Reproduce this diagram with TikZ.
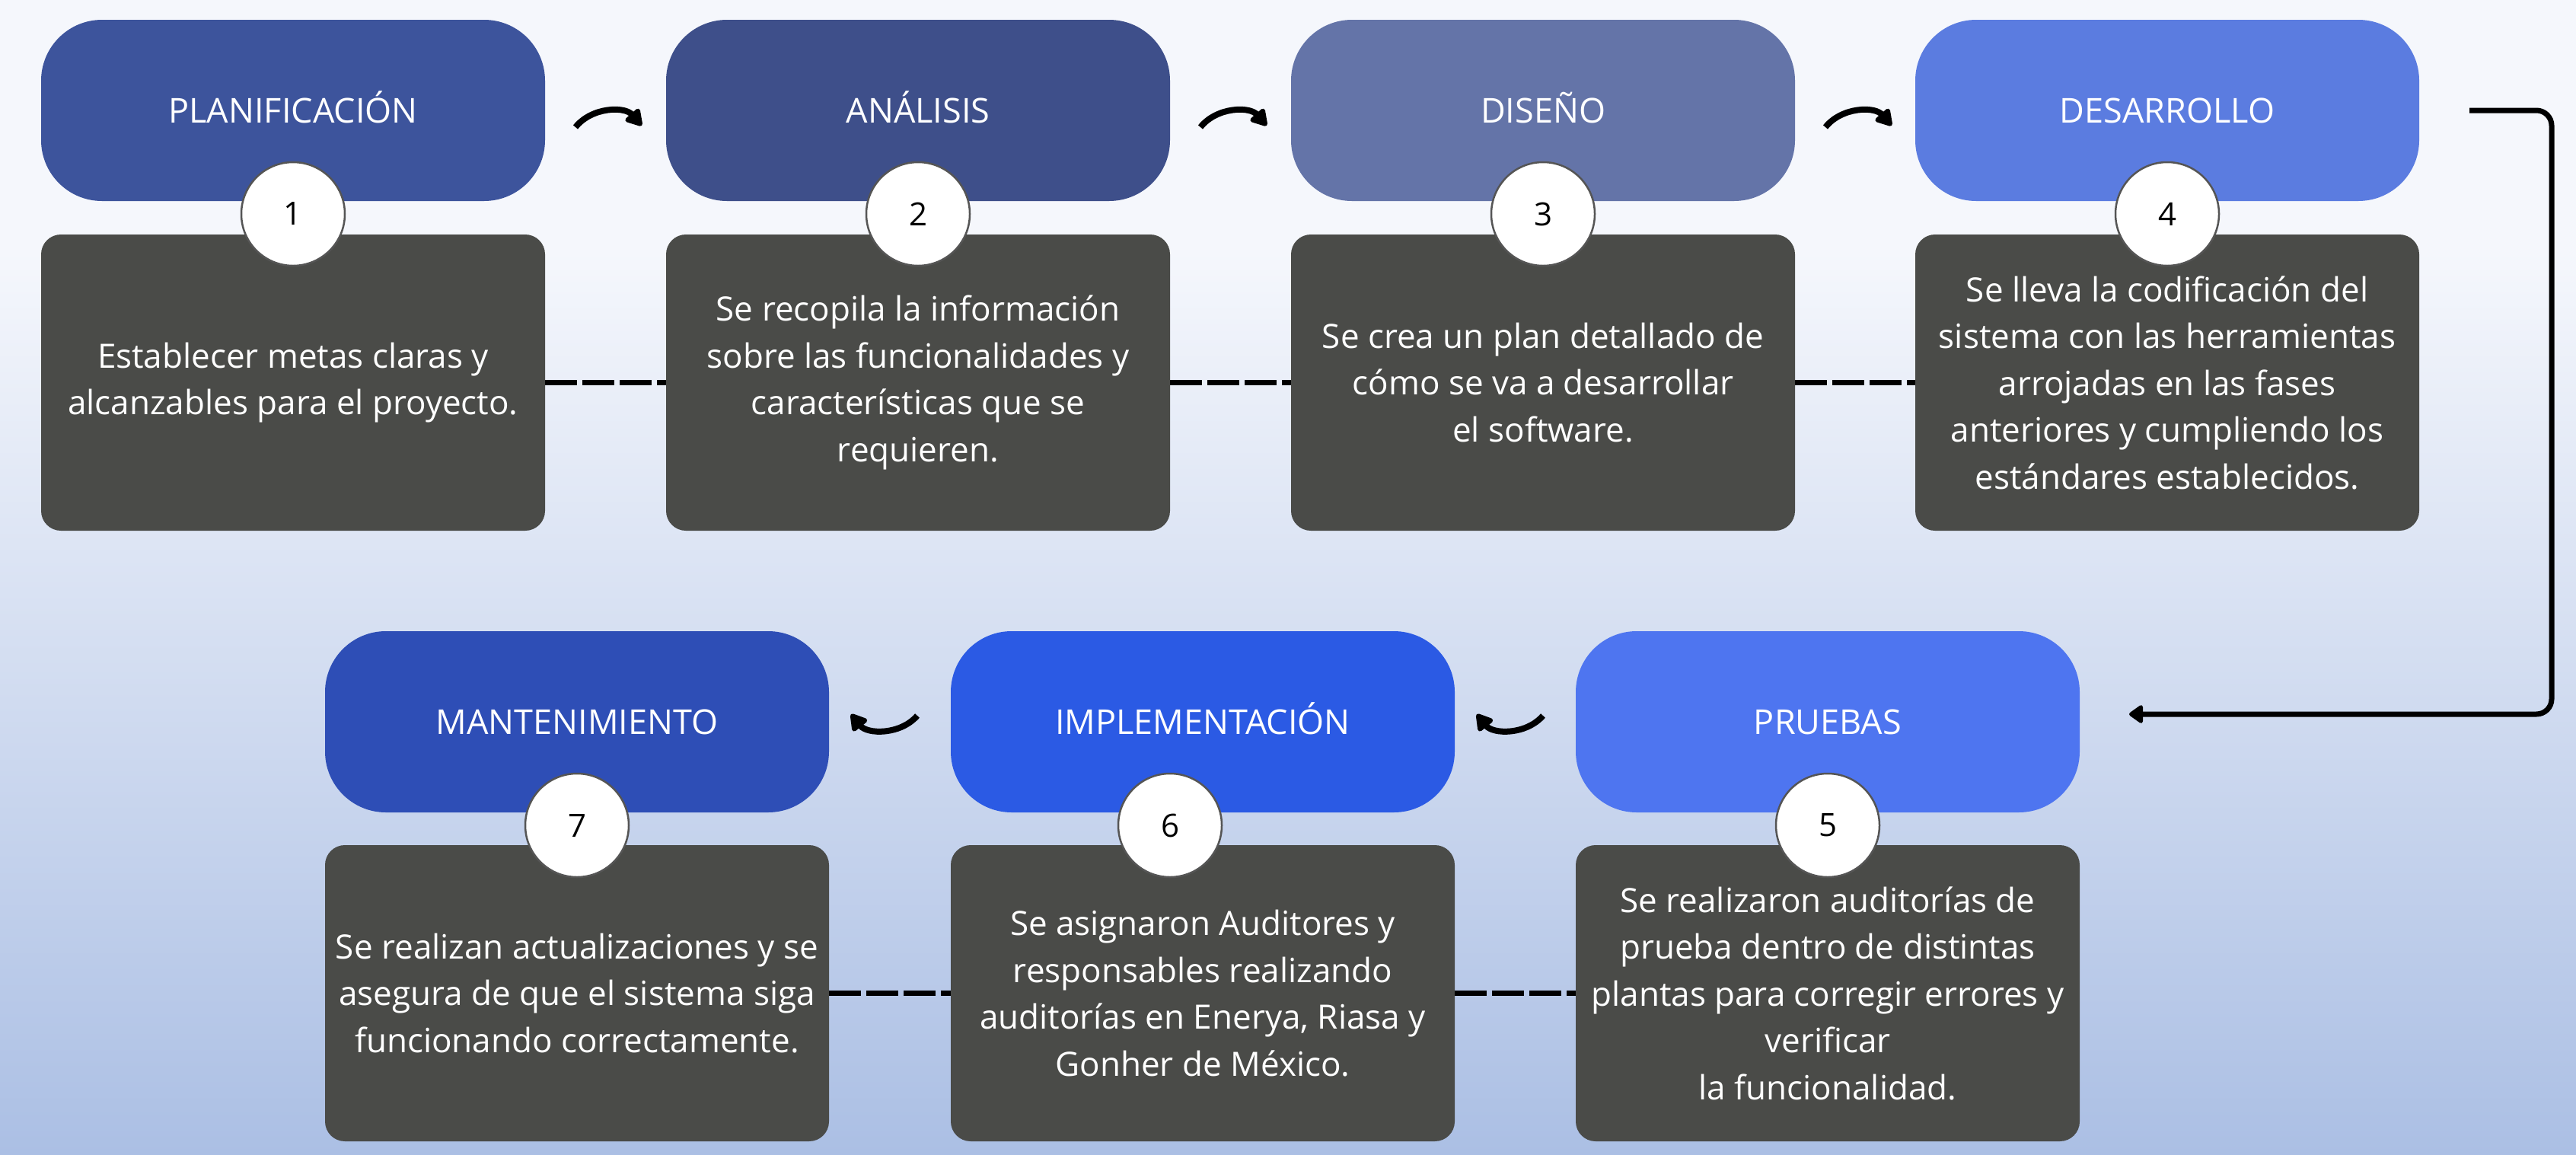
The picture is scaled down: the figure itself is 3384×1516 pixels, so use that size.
\documentclass[tikz,border=0pt]{standalone}
\usepackage{fontspec}
\setmainfont{Open Sans}
\usetikzlibrary{arrows.meta}
\definecolor{bgtop}{HTML}{F5F7FC}
\definecolor{bgbot}{HTML}{ABBFE4}
\definecolor{cA}{HTML}{3D549C}
\definecolor{cB}{HTML}{3E4F8A}
\definecolor{cC}{HTML}{6474A8}
\definecolor{cD}{HTML}{5B7CE0}
\definecolor{cE}{HTML}{4E75F0}
\definecolor{cF}{HTML}{2B5AE4}
\definecolor{cG}{HTML}{2E4EB6}
\definecolor{darkbox}{HTML}{4A4B48}
\definecolor{ringcol}{HTML}{555555}
\tikzset{
  pill/.style={rectangle, rounded corners=80pt, minimum width=662pt, minimum height=238pt,
    inner sep=0pt, text=white, text height=32pt, text depth=0pt,
    font=\fontsize{45}{54}\selectfont},
  descbox/.style={rectangle, rounded corners=26pt, fill=darkbox, minimum width=662pt,
    minimum height=389pt, inner sep=0pt, text=white, align=center,
    font=\fontsize{44}{61.5}\selectfont},
  numcircle/.style={circle, fill=white, draw=ringcol, line width=2.5pt, minimum size=136pt,
    inner sep=0pt, text=black, font=\fontsize{42}{50}\selectfont},
  dashlink/.style={line width=7pt, dash pattern=on 42pt off 7pt},
  curvearrow/.style={line width=8pt, -{Triangle[length=24pt,width=27pt,round]}},
  bigarrow/.style={line width=7pt, rounded corners=20pt, -{Triangle[length=20pt,width=27pt,round]}}
}
\begin{document}
\begin{tikzpicture}[x=1pt,y=-1pt]
\useasboundingbox (0,0) rectangle (3384,1516);
\fill[bgtop] (0,0) rectangle (3384,331);
\shade[top color=bgtop, bottom color=bgbot] (0,330) rectangle (3384,1516);

% top row
\node[pill, fill=cA] (p1) at (385,145) {PLANIFICACIÓN};
\node[pill, fill=cB] (p2) at (1206,145) {ANÁLISIS};
\node[pill, fill=cC] (p3) at (2027,145) {DISEÑO};
\node[pill, fill=cD] (p4) at (2847,145) {DESARROLLO};

\node[descbox] (d1) at (385,502.5) {Establecer metas claras y\\alcanzables para el proyecto.};
\node[descbox] (d2) at (1206,502.5) {Se recopila la información\\sobre las funcionalidades y\\características que se\\requieren.};
\node[descbox] (d3) at (2027,502.5) {Se crea un plan detallado de\\cómo se va a desarrollar\\el software.};
\node[descbox] (d4) at (2847,502.5) {Se lleva la codificación del\\sistema con las herramientas\\arrojadas en las fases\\anteriores y cumpliendo los\\estándares establecidos.};

\node[numcircle] (n1) at (385,281) {1};
\node[numcircle] (n2) at (1206,281) {2};
\node[numcircle] (n3) at (2027,281) {3};
\node[numcircle] (n4) at (2847,281) {4};

% bottom row
\node[pill, fill=cG] (p7) at (758,948) {MANTENIMIENTO};
\node[pill, fill=cF] (p6) at (1580,948) {IMPLEMENTACIÓN};
\node[pill, fill=cE] (p5) at (2401,948) {PRUEBAS};

\node[descbox] (d7) at (758,1304.5) {Se realizan actualizaciones y se\\asegura de que el sistema siga\\funcionando correctamente.};
\node[descbox] (d6) at (1580,1304.5) {Se asignaron Auditores y\\responsables realizando\\auditorías en Enerya, Riasa y\\Gonher de México.};
\node[descbox] (d5) at (2401,1304.5) {Se realizaron auditorías de\\prueba dentro de distintas\\plantas para corregir errores y\\verificar\\la funcionalidad.};

\node[numcircle] (n7) at (758,1084) {7};
\node[numcircle] (n6) at (1537,1084) {6};
\node[numcircle] (n5) at (2401,1084) {5};

% dashed links
\draw[dashlink] (d1.east) -- (d2.west);
\draw[dashlink] (d2.east) -- (d3.west);
\draw[dashlink] (d3.east) -- (d4.west);
\draw[dashlink] (d7.east) -- (d6.west);
\draw[dashlink] (d6.east) -- (d5.west);

% curved arrows top
\coordinate (a1s) at (756,167); \coordinate (a1e) at (843,165);
\coordinate (a2s) at (1577,167); \coordinate (a2e) at (1664,165);
\coordinate (a3s) at (2398,167); \coordinate (a3e) at (2485,165);
\draw[curvearrow] (a1s) to[bend left=50] (a1e);
\draw[curvearrow] (a2s) to[bend left=50] (a2e);
\draw[curvearrow] (a3s) to[bend left=50] (a3e);

% curved arrows bottom
\coordinate (b1s) at (1205,940); \coordinate (b1e) at (1118,938);
\coordinate (b2s) at (2027,940); \coordinate (b2e) at (1940,938);
\draw[curvearrow] (b1s) to[bend left=50] (b1e);
\draw[curvearrow] (b2s) to[bend left=50] (b2e);

% right connector
\coordinate (r0) at (3244,145);
\coordinate (r1) at (3352,145);
\coordinate (r2) at (3352,938);
\coordinate (r3) at (2797,938);
\draw[bigarrow] (r0) -- (r1) -- (r2) -- (r3);
\end{tikzpicture}
\end{document}
